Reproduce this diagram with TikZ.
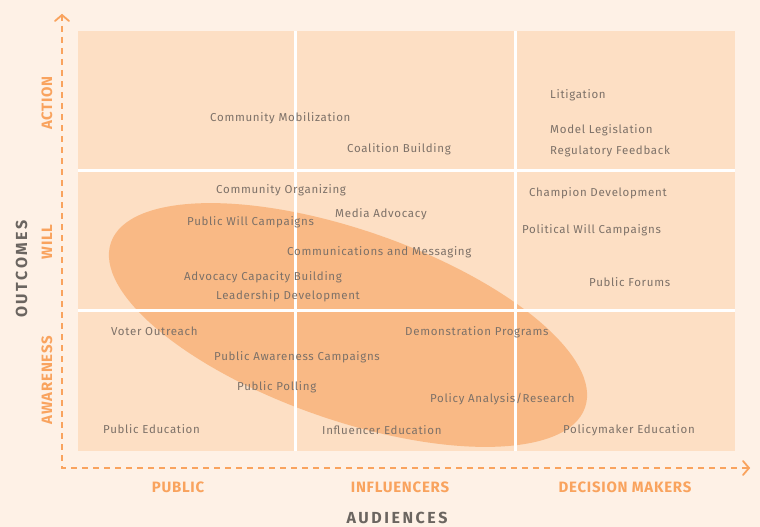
\documentclass[tikz,border=0pt]{standalone}
\usepackage{fontspec}
\setmainfont{Fira Sans}
\newfontfamily\itemfont{Fira Sans}[LetterSpace=6]
\newfontfamily\axfont{Fira Sans}[LetterSpace=5]
\newfontfamily\bigfont{Fira Sans}[LetterSpace=16]
\usetikzlibrary{arrows.meta}
\definecolor{bg}{HTML}{FEF1E6}
\definecolor{cell}{HTML}{FDDFC4}
\definecolor{blob}{HTML}{F9B985}
\definecolor{axis}{HTML}{F9A35E}
\definecolor{txt}{HTML}{7D7168}
\definecolor{dark}{HTML}{6B6560}
\tikzset{
  item/.style={anchor=base west, inner sep=0pt, text=txt, font=\itemfont\fontsize{11.5}{13}\selectfont},
  axlab/.style={inner sep=0pt, text=axis, font=\axfont\fontsize{15}{17}\bfseries\selectfont},
  bigLab/.style={inner sep=0pt, text=dark, font=\bigfont\fontsize{16}{18}\bfseries\selectfont},
  axline/.style={draw=axis, line width=1.8pt, dash pattern=on 6pt off 5pt},
  chev/.style={draw=axis, line width=1.8pt, line cap=round, line join=miter}
}
\begin{document}
\begin{tikzpicture}[x=1pt,y=-1pt]
\useasboundingbox (0,0) rectangle (760,527);
\fill[bg] (0,0) rectangle (760,527);
% grid cells
\fill[cell] (78,31) rectangle (735,451);
% ellipse
\fill[blob, rotate around={-19.2:(348,325)}] (348,325) ellipse [x radius=251, y radius=95];
% white grid lines
\draw[white, line width=3pt] (295.5,31) -- (295.5,451) (515,31) -- (515,451)
  (78,170.5) -- (735,170.5) (78,310.5) -- (735,310.5);
% axes
\coordinate (top) at (62,15);
\coordinate (corner) at (62,468);
\coordinate (right) at (749,468);
\draw[axline] (top) -- (corner) -- (right);
\draw[chev] (55,21) -- (top) -- (69,21);
\draw[chev] (743,461) -- (right) -- (743,475);
% axis labels
\node[axlab, rotate=90] (action) at (47,103) {ACTION};
\node[axlab, rotate=90] (will) at (47,242) {WILL};
\node[axlab, rotate=90] (awareness) at (47,380) {AWARENESS};
\node[bigLab, rotate=90] (outcomes) at (21.5,269) {OUTCOMES};
\node[axlab] (public) at (178,487) {PUBLIC};
\node[axlab] (influencers) at (400,487) {INFLUENCERS};
\node[axlab] (decision) at (625,487) {DECISION MAKERS};
\node[bigLab] (audiences) at (397,518) {AUDIENCES};
% items
\node[item] (n1) at (210,121) {Community Mobilization};
\node[item] (n2) at (347,152) {Coalition Building};
\node[item] (n3) at (550,99) {Litigation};
\node[item] (n4) at (550,133) {Model Legislation};
\node[item] (n5) at (550,154) {Regulatory Feedback};
\node[item] (n6) at (216,193) {Community Organizing};
\node[item] (n7) at (335,217) {Media Advocacy};
\node[item] (n8) at (187,225) {Public Will Campaigns};
\node[item] (n9) at (287,255) {Communications and Messaging};
\node[item] (n10) at (184,280) {Advocacy Capacity Building};
\node[item] (n11) at (216,299) {Leadership Development};
\node[item] (n12) at (529,196) {Champion Development};
\node[item] (n13) at (522,233) {Political Will Campaigns};
\node[item] (n14) at (589,286) {Public Forums};
\node[item] (n15) at (111,335) {Voter Outreach};
\node[item] (n16) at (405,335) {Demonstration Programs};
\node[item] (n17) at (214,360) {Public Awareness Campaigns};
\node[item] (n18) at (237,390) {Public Polling};
\node[item] (n19) at (430,402) {Policy Analysis/Research};
\node[item] (n20) at (103,433) {Public Education};
\node[item] (n21) at (322,434) {Influencer Education};
\node[item] (n22) at (563,433) {Policymaker Education};
\end{tikzpicture}
\end{document}
